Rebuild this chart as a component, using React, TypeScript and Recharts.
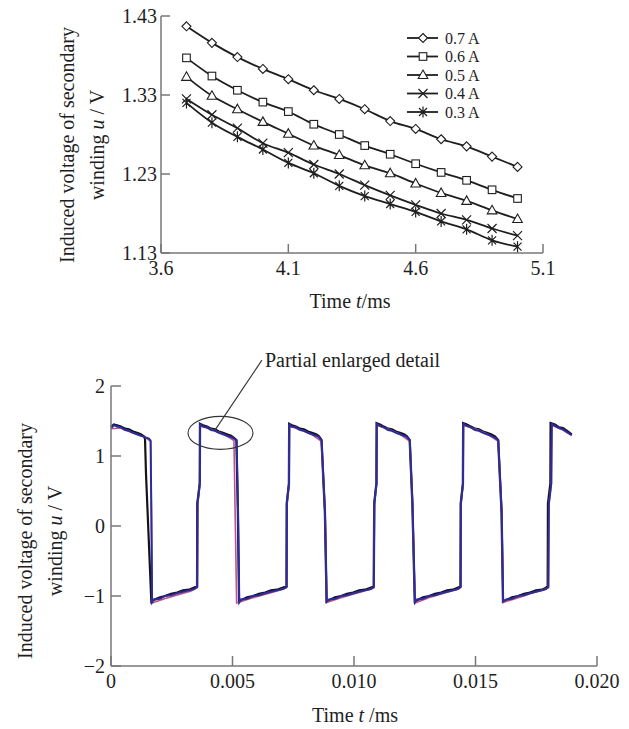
import { LineChart, Line, XAxis, YAxis, Legend, ReferenceDot, ReferenceLine } from 'recharts'

const FONT = '"Liberation Serif", "Times New Roman", serif'
const AXIS = '#777'
const INK = '#1e1e1e'

// ---- upper panel: partial enlarged detail, one curve per excitation current
const detailTimes = [3.7, 3.8, 3.9, 4.0, 4.1, 4.2, 4.3, 4.4, 4.5, 4.6, 4.7, 4.8, 4.9, 5.0]
const u07 = [1.417, 1.396, 1.378, 1.363, 1.350, 1.336, 1.325, 1.312, 1.297, 1.287, 1.274, 1.265, 1.252, 1.239]
const u06 = [1.377, 1.354, 1.336, 1.321, 1.309, 1.293, 1.280, 1.266, 1.255, 1.243, 1.232, 1.222, 1.210, 1.199]
const u05 = [1.353, 1.329, 1.312, 1.296, 1.281, 1.266, 1.254, 1.241, 1.231, 1.218, 1.206, 1.196, 1.184, 1.173]
const u04 = [1.325, 1.305, 1.288, 1.269, 1.257, 1.242, 1.230, 1.216, 1.203, 1.191, 1.180, 1.172, 1.161, 1.152]
const u03 = [1.320, 1.295, 1.277, 1.261, 1.244, 1.231, 1.215, 1.202, 1.192, 1.182, 1.170, 1.160, 1.146, 1.138]
const currentLabels = ['0.7 A', '0.6 A', '0.5 A', '0.4 A', '0.3 A']
const currentKeys = ['a07', 'a06', 'a05', 'a04', 'a03']
const detailXTicks = [3.6, 4.1, 4.6, 5.1]
const detailYTicks = [1.13, 1.23, 1.33, 1.43]

// ---- lower panel: full waveform
const blackTime = [0, 0.00012, 0.00025, 0.00041, 0.00058, 0.00074, 0.00091, 0.00107, 0.00123, 0.00136, 0.0014, 0.00144, 0.00166,
  0.00172, 0.00202, 0.00222, 0.00247, 0.00272, 0.00296, 0.00321, 0.00342, 0.00354,
  0.00355, 0.00365, 0.00366,
  0.00379, 0.00395, 0.00412, 0.00428, 0.00444, 0.00461, 0.00477, 0.00494, 0.00506, 0.00516,
  0.00522, 0.00527,
  0.00535, 0.0056, 0.00584, 0.00609, 0.00634, 0.00658, 0.00683, 0.00708, 0.00722,
  0.00723, 0.00732, 0.00733,
  0.00745, 0.00761, 0.00778, 0.00794, 0.00811, 0.00827, 0.00844, 0.00856, 0.00866,
  0.0088, 0.00887,
  0.00897, 0.00922, 0.00947, 0.00971, 0.00996, 0.01021, 0.01045, 0.0107, 0.01081,
  0.01083, 0.01092, 0.01093,
  0.01107, 0.01123, 0.0114, 0.01156, 0.01173, 0.01189, 0.01206, 0.01218, 0.01229,
  0.0124, 0.0125,
  0.01259, 0.01284, 0.01309, 0.01333, 0.01358, 0.01383, 0.01407, 0.01428, 0.01438,
  0.01439, 0.01448, 0.01449,
  0.01465, 0.01481, 0.01498, 0.01514, 0.01531, 0.01547, 0.01564, 0.0158, 0.01593,
  0.01607, 0.01613,
  0.01626, 0.0165, 0.01675, 0.017, 0.01724, 0.01749, 0.01774, 0.0179, 0.01797,
  0.01798, 0.01808, 0.01809,
  0.01827, 0.01844, 0.0186, 0.01877, 0.01896]
const blackVolt = [1.42, 1.45, 1.44, 1.42, 1.39, 1.38, 1.35, 1.33, 1.31, 1.28, 1.24, 0.75, -1.08,
  -1.06, -1.02, -1.00, -0.97, -0.95, -0.92, -0.91, -0.88, -0.86,
  0.32, 0.61, 1.46,
  1.44, 1.42, 1.39, 1.38, 1.35, 1.33, 1.31, 1.29, 1.26, 1.23,
  0.2, -1.08,
  -1.06, -1.02, -1.00, -0.97, -0.95, -0.92, -0.91, -0.88, -0.86,
  0.32, 0.61, 1.46,
  1.44, 1.42, 1.39, 1.38, 1.35, 1.33, 1.31, 1.28, 1.23,
  0.2, -1.08,
  -1.06, -1.02, -1.00, -0.97, -0.95, -0.92, -0.91, -0.88, -0.86,
  0.32, 0.61, 1.47,
  1.45, 1.42, 1.39, 1.38, 1.35, 1.33, 1.31, 1.28, 1.23,
  0.32, -1.08,
  -1.06, -1.02, -1.00, -0.97, -0.95, -0.92, -0.91, -0.88, -0.86,
  0.32, 0.61, 1.47,
  1.45, 1.42, 1.39, 1.38, 1.35, 1.33, 1.31, 1.28, 1.23,
  0.2, -1.08,
  -1.06, -1.02, -1.00, -0.97, -0.95, -0.92, -0.91, -0.88, -0.86,
  0.32, 0.61, 1.47,
  1.45, 1.41, 1.40, 1.36, 1.31]

const blueTime = [0, 0.00012, 0.00025, 0.00041, 0.00058, 0.00074, 0.00091, 0.00107, 0.00123, 0.0014, 0.00156, 0.00163, 0.00166, 0.00169,
  0.00177, 0.00202, 0.00222, 0.00247, 0.00272, 0.00296, 0.00321, 0.00342, 0.00355,
  0.00356, 0.00366, 0.00367,
  0.00379, 0.00395, 0.00412, 0.00428, 0.00444, 0.00461, 0.00477, 0.00494, 0.00506, 0.00517,
  0.00523, 0.00528,
  0.00535, 0.0056, 0.00584, 0.00609, 0.00634, 0.00658, 0.00683, 0.00708, 0.00723,
  0.00724, 0.00733, 0.00734,
  0.00745, 0.00761, 0.00778, 0.00794, 0.00811, 0.00827, 0.00844, 0.00856, 0.00867,
  0.00881, 0.00888,
  0.00897, 0.00922, 0.00947, 0.00971, 0.00996, 0.01021, 0.01045, 0.0107, 0.01082,
  0.01084, 0.01093, 0.01094,
  0.01107, 0.01123, 0.0114, 0.01156, 0.01173, 0.01189, 0.01206, 0.01218, 0.0123,
  0.01241, 0.01251,
  0.01259, 0.01284, 0.01309, 0.01333, 0.01358, 0.01383, 0.01407, 0.01428, 0.01439,
  0.0144, 0.01449, 0.0145,
  0.01465, 0.01481, 0.01498, 0.01514, 0.01531, 0.01547, 0.01564, 0.0158, 0.01594,
  0.01608, 0.01614,
  0.01626, 0.0165, 0.01675, 0.017, 0.01724, 0.01749, 0.01774, 0.0179, 0.018,
  0.01802, 0.01812, 0.01814,
  0.01827, 0.01844, 0.0186, 0.01877, 0.01896]
const blueVolt = [1.40, 1.44, 1.42, 1.41, 1.37, 1.36, 1.33, 1.31, 1.29, 1.27, 1.25, 1.22, 0.18, -1.09,
  -1.05, -1.04, -1.00, -0.99, -0.96, -0.94, -0.92, -0.90, -0.87,
  0.32, 0.61, 1.45,
  1.42, 1.41, 1.37, 1.36, 1.33, 1.31, 1.29, 1.27, 1.25, 1.22,
  0.2, -1.09,
  -1.05, -1.04, -1.00, -0.99, -0.96, -0.94, -0.92, -0.90, -0.87,
  0.32, 0.61, 1.45,
  1.42, 1.41, 1.37, 1.36, 1.33, 1.31, 1.29, 1.27, 1.22,
  0.2, -1.08,
  -1.05, -1.04, -1.00, -0.99, -0.96, -0.94, -0.92, -0.90, -0.87,
  0.32, 0.61, 1.46,
  1.43, 1.41, 1.37, 1.36, 1.33, 1.31, 1.29, 1.27, 1.22,
  0.32, -1.09,
  -1.05, -1.04, -1.00, -0.99, -0.96, -0.94, -0.92, -0.90, -0.87,
  0.32, 0.61, 1.46,
  1.43, 1.41, 1.37, 1.36, 1.33, 1.31, 1.29, 1.26, 1.22,
  0.2, -1.08,
  -1.05, -1.04, -1.00, -0.99, -0.96, -0.94, -0.92, -0.90, -0.87,
  0.32, 0.61, 1.46,
  1.43, 1.40, 1.38, 1.34, 1.30]

const pinkTime = [0, 0.0004, 0.0009, 0.0014, 0.00163, 0.00167, 0.0017, 0.0022, 0.0028, 0.0033, 0.00355, 0.00357, 0.00366, 0.00367,
  0.0042, 0.0047, 0.00506, 0.00517, 0.0058, 0.0064, 0.0069, 0.00722, 0.00724, 0.00733, 0.00734, 0.0079, 0.0083, 0.00866,
  0.00881, 0.00888, 0.0095, 0.0101, 0.0106, 0.01082, 0.01084, 0.01093, 0.01094, 0.0115, 0.0119, 0.0123, 0.01241, 0.01251,
  0.0131, 0.0137, 0.0142, 0.01439, 0.0144, 0.01449, 0.0145, 0.0151, 0.0155, 0.01594, 0.01608, 0.01614, 0.0168, 0.0173,
  0.0178, 0.018, 0.01802, 0.01812, 0.01814, 0.0186, 0.01896]
const pinkVolt = [1.39, 1.40, 1.33, 1.27, 1.21, 0.1, -1.10, -1.04, -0.98, -0.93, -0.88, 0.3, 0.6, 1.43,
  1.37, 1.30, 1.22, -1.10, -1.03, -0.97, -0.92, -0.88, 0.3, 0.6, 1.43, 1.36, 1.30, 1.21,
  0.2, -1.09, -1.02, -0.96, -0.91, -0.88, 0.3, 0.6, 1.44, 1.37, 1.31, 1.21, 0.3, -1.10,
  -1.02, -0.96, -0.91, -0.88, 0.3, 0.6, 1.44, 1.37, 1.31, 1.21, 0.2, -1.09, -1.02, -0.96,
  -0.91, -0.88, 0.3, 0.6, 1.44, 1.37, 1.29]

const waveXTicks = [0, 0.005, 0.01, 0.015, 0.02]
const waveXLabels = ['0', '0.005', '0.010', '0.015', '0.020']
const waveYTicks = [-2, -1, 0, 1, 2]
const noteText = 'Partial enlarged detail'

const detailRows = detailTimes.map((t, i) => ({ t, a07: u07[i], a06: u06[i], a05: u05[i], a04: u04[i], a03: u03[i] }))
const toRows = (ts: number[], us: number[]) => ts.map((t, i) => ({ t, u: us[i] }))
const blackRows = toRows(blackTime, blackVolt)
const blueRows = toRows(blueTime, blueVolt)
const pinkRows = toRows(pinkTime, pinkVolt)

type MarkerKind = 'diamond' | 'square' | 'triangle' | 'cross' | 'star'
const markerKinds: MarkerKind[] = ['diamond', 'square', 'triangle', 'cross', 'star']

function Marker({ kind, x, y }: { kind: MarkerKind; x: number; y: number }) {
  const common = { fill: '#fff', stroke: INK, strokeWidth: 1.1 }
  if (kind === 'diamond') return <path d={`M${x},${y - 4.5}L${x + 4.5},${y}L${x},${y + 4.5}L${x - 4.5},${y}Z`} {...common} />
  if (kind === 'square') return <rect x={x - 3.8} y={y - 3.8} width={7.6} height={7.6} {...common} />
  if (kind === 'triangle') return <path d={`M${x},${y - 5}L${x + 4.8},${y + 3.5}L${x - 4.8},${y + 3.5}Z`} {...common} />
  if (kind === 'cross') return <path d={`M${x - 4.5},${y - 4.5}L${x + 4.5},${y + 4.5}M${x - 4.5},${y + 4.5}L${x + 4.5},${y - 4.5}`} fill="none" stroke={INK} strokeWidth={1.2} />
  return (
    <path
      d={`M${x - 4},${y - 4}L${x + 4},${y + 4}M${x - 4},${y + 4}L${x + 4},${y - 4}M${x},${y - 5.5}L${x},${y + 5.5}`}
      fill="none" stroke={INK} strokeWidth={1.2}
    />
  )
}

// legend rows, offsets inside the legend box
const legendRowY = [9, 27.5, 46, 64.5, 83]

function CurrentLegend() {
  return (
    <svg width={120} height={96} style={{ display: 'block', overflow: 'visible' }}>
      {currentLabels.map((label, i) => (
        <g key={label}>
          <line x1={7} x2={38} y1={legendRowY[i]} y2={legendRowY[i]} stroke={INK} strokeWidth={1.8} />
          <Marker kind={markerKinds[i]} x={23} y={legendRowY[i]} />
          <text x={45} y={legendRowY[i]} dy="0.35em" fontFamily={FONT} fontSize={16} fill={INK}>{label}</text>
        </g>
      ))}
    </svg>
  )
}

function YTitle({ left, mid }: { left: number; mid: number }) {
  return (
    <g fontFamily={FONT} fontSize={20} fill={INK}>
      <text transform={`translate(${left},${mid}) rotate(-90)`} textAnchor="middle" dy="0.35em">Induced voltage of secondary</text>
      <text transform={`translate(${left + 30},${mid}) rotate(-90)`} textAnchor="middle" dy="0.35em">
        winding <tspan fontStyle="italic">u</tspan> / V
      </text>
    </g>
  )
}

function XTitle({ center, base, gap }: { center: number; base: number; gap: string }) {
  return (
    <text x={center} y={base} textAnchor="middle" fontFamily={FONT} fontSize={20} fill={INK}>
      Time <tspan fontStyle="italic">t</tspan>{gap}/ms
    </text>
  )
}

const tickStyle = { fill: INK, fontSize: 20, fontFamily: FONT }

export default function App() {
  return (
    <div style={{ position: 'absolute', left: 0, top: 0, width: 629, height: 729, background: '#fff' }}>
      <div style={{ position: 'absolute', left: 0, top: 0 }}>
        <LineChart width={629} height={330} data={detailRows} margin={{ top: 16, right: 86, bottom: 17, left: 0 }}>
          <XAxis
            dataKey="t" type="number" domain={[3.6, 5.1]} ticks={detailXTicks} height={60}
            tickFormatter={(v: number) => v.toFixed(1)}
            stroke={AXIS} strokeWidth={1.5} tickSize={-9} tickMargin={17} tick={tickStyle}
            label={<XTitle center={350} base={308} gap="" />}
          />
          <YAxis
            type="number" domain={[1.13, 1.43]} ticks={detailYTicks} width={161}
            tickFormatter={(v: number) => v.toFixed(2)}
            stroke={AXIS} strokeWidth={1.5} tickSize={-9} tickMargin={13} tick={tickStyle}
            label={<YTitle left={67} mid={145} />}
          />
          <Legend
            layout="vertical" align="center" verticalAlign="middle"
            content={() => <CurrentLegend />}
            wrapperStyle={{ left: 400, top: 29, width: 120 }}
          />
          {currentKeys.map((key, i) => (
            <Line
              key={key}
              dataKey={key}
              name={currentLabels[i]}
              type="monotone"
              stroke={INK}
              strokeWidth={1.8}
              isAnimationActive={false}
              dot={(p: any) => <Marker key={`${key}-${p.index}`} kind={markerKinds[i]} x={p.cx} y={p.cy} />}
            />
          ))}
        </LineChart>
      </div>

      <div style={{ position: 'absolute', left: 0, top: 350 }}>
        <LineChart width={629} height={379} margin={{ top: 36, right: 32, bottom: 13, left: 0 }}>
          <XAxis
            dataKey="t" type="number" domain={[0, 0.02]} ticks={waveXTicks} height={50}
            tickFormatter={(v: number) => waveXLabels[waveXTicks.indexOf(v)] ?? String(v)}
            stroke={AXIS} strokeWidth={1.5} tickSize={-10} tickMargin={18} tick={tickStyle}
            label={<XTitle center={355} base={372} gap=" " />}
          />
          <YAxis
            type="number" domain={[-2, 2]} ticks={waveYTicks} width={111}
            tickFormatter={(v: number) => (v < 0 ? `\u2212${Math.abs(v)}` : String(v))}
            stroke={AXIS} strokeWidth={1.5} tickSize={-10} tickMargin={16} tick={tickStyle}
            label={<YTitle left={25} mid={191} />}
          />
          <Line data={blackRows} dataKey="u" type="linear" stroke="#151515" strokeWidth={2.2} dot={false} isAnimationActive={false} />
          <Line data={pinkRows} dataKey="u" type="linear" stroke="#c0508f" strokeWidth={1.6} dot={false} isAnimationActive={false} />
          <Line data={blueRows} dataKey="u" type="linear" stroke="#2a2c9c" strokeWidth={2} dot={false} isAnimationActive={false} />
          <ReferenceDot
            x={0.004506} y={1.33} ifOverflow="visible"
            shape={(p: any) => <ellipse cx={p.cx} cy={p.cy} rx={32.5} ry={16.5} fill="none" stroke="#333" strokeWidth={1.1} />}
          />
          <ReferenceLine
            segment={[{ x: 0.00428, y: 1.37 }, { x: 0.00621, y: 2.37 }]}
            ifOverflow="visible" stroke="#333" strokeWidth={1.1}
          />
          <ReferenceDot
            x={0.00621} y={2.37} ifOverflow="visible"
            shape={(p: any) => (
              <text x={p.cx + 3} y={p.cy + 7} fontFamily={FONT} fontSize={20} fill={INK}>{noteText}</text>
            )}
          />
        </LineChart>
      </div>
    </div>
  )
}
